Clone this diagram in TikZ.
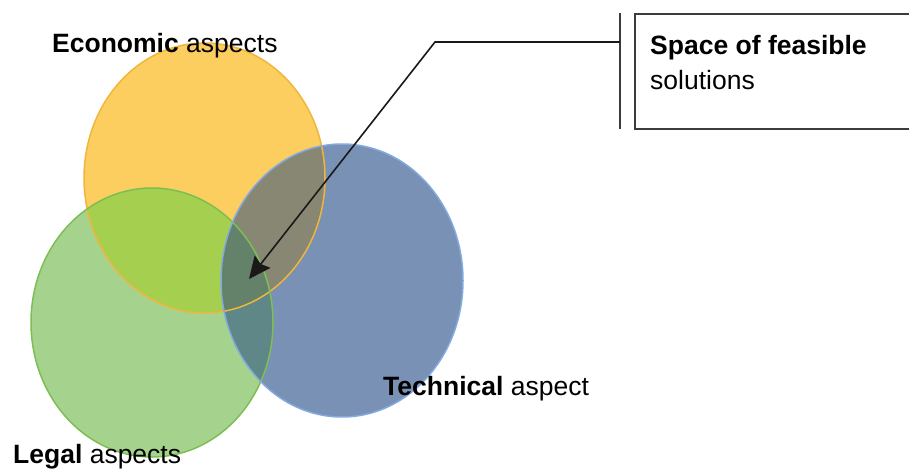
\documentclass[tikz,border=0pt]{standalone}
\usepackage{fontspec}
\setmainfont{Liberation Sans}
\usetikzlibrary{arrows.meta,shapes.geometric}
\definecolor{cO}{RGB}{252,205,95}
\definecolor{cG}{RGB}{165,210,140}
\definecolor{cOG}{RGB}{165,207,78}
\definecolor{cB}{RGB}{120,145,180}
\definecolor{cOB}{RGB}{135,135,115}
\definecolor{cGB}{RGB}{95,135,135}
\definecolor{cOGB}{RGB}{100,130,105}
\definecolor{orgline}{RGB}{240,182,60}
\definecolor{grnline}{RGB}{125,190,85}
\definecolor{bluline}{RGB}{130,170,225}
\definecolor{boxline}{RGB}{60,60,60}
\begin{document}
\begin{tikzpicture}[x=1pt,y=-1pt,
  lbl/.style={anchor=base west,inner sep=0pt,font=\fontsize{26.5}{35}\selectfont},
  blob/.style={ellipse,inner sep=0pt,line width=1.5pt},
  frame/.style={draw=boxline,line width=2pt,inner sep=0pt},
  pointer/.style={draw=black!90,line width=1.6pt,-{Stealth[length=22pt,width=20pt,inset=3pt]}},
  shapeO/.style={insert path={(cE) ellipse [x radius=120.5,y radius=135]}},
  shapeG/.style={insert path={(cL) ellipse [x radius=121,y radius=134.5]}},
  shapeB/.style={insert path={(cT) ellipse [x radius=121,y radius=136.5]}}]
\useasboundingbox (0,0) rectangle (909,470);
\coordinate (cE) at (204.5,178);
\coordinate (cL) at (152,322.5);
\coordinate (cT) at (342,280.5);
% region fills
\fill[cO,shapeO];
\fill[cG,shapeG];
\begin{scope}\clip[shapeG];\fill[cOG,shapeO];\end{scope}
\fill[cB,shapeB];
\begin{scope}\clip[shapeB];\fill[cOB,shapeO];\fill[cGB,shapeG];
  \clip[shapeG];\fill[cOGB,shapeO];\end{scope}
% outlines
\node[blob,minimum width=241,minimum height=270,draw=orgline] (E) at (cE) {};
\node[blob,minimum width=242,minimum height=269,draw=grnline] (L) at (cL) {};
\node[blob,minimum width=242,minimum height=273,draw=bluline] (T) at (cT) {};
\node[lbl] (econ) at (52,53) {\textbf{Economic} aspects};
\node[lbl] (legal) at (13,463) {\textbf{Legal} aspects};
\node[lbl] (tech) at (383,395) {\textbf{Technical} aspect};
\node[frame,anchor=north west,minimum width=300,minimum height=115] (box) at (633.5,13.5) {};
\node[lbl,align=left] (boxtext) at (650,90) {\textbf{Space of feasible}\\solutions};
\coordinate (bartop) at (620,13);
\coordinate (barbot) at (620,129);
\coordinate (bar) at (620,42);
\coordinate (bend) at (435,42);
\coordinate (tip) at (249,279);
\draw[draw=boxline,line width=2pt] (bartop) -- (barbot);
\draw[pointer] (bar) -- (bend) -- (tip);
\end{tikzpicture}
\end{document}
